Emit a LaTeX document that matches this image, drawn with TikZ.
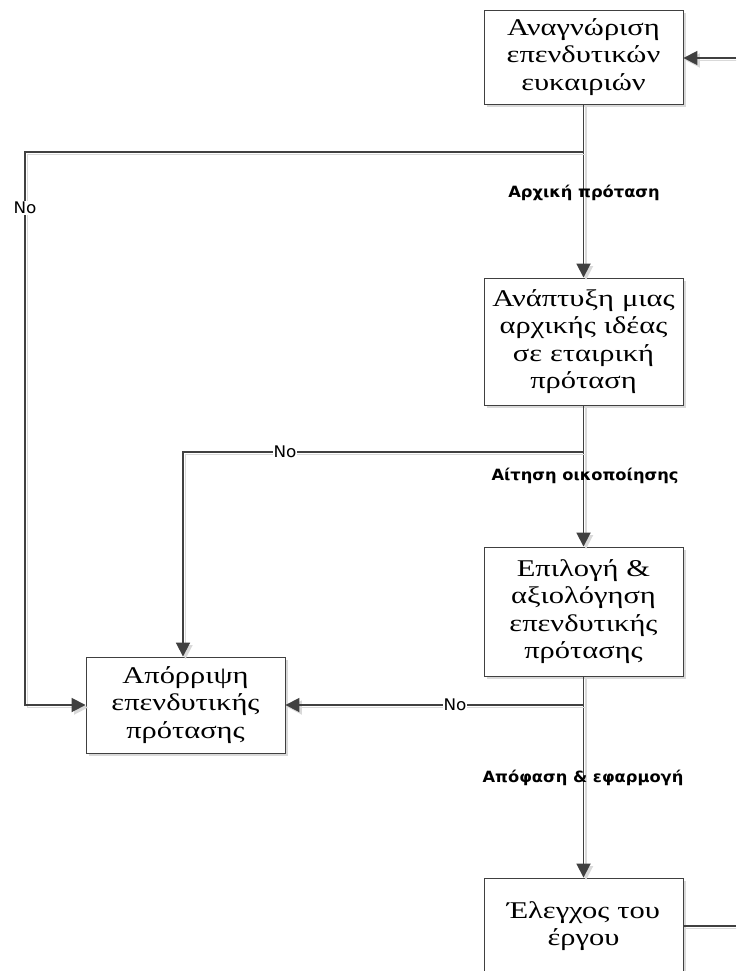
\documentclass[tikz,border=0pt]{standalone}
\usepackage{fontspec}
\setmainfont[FakeStretch=1.27]{Liberation Serif}
\newfontfamily\lblfont[FakeStretch=1.05]{DejaVu Sans}
\usetikzlibrary{arrows.meta}
\definecolor{linegray}{HTML}{404040}
\definecolor{shadowgray}{HTML}{D9D9D9}
\tikzset{
  box/.style={draw=linegray, line width=0.9pt, fill=white, minimum width=199pt, text width=196pt, align=center,
     font=\fontsize{24}{27.5}\selectfont, inner sep=0pt,
     preaction={fill=shadowgray, transform canvas={shift={(3pt,-3pt)}}}},
  conn/.style={draw=linegray, line width=1.8pt, -{Triangle[length=14pt,width=14pt]},
     preaction={draw=shadowgray, line width=1.8pt, transform canvas={shift={(2.5pt,-2.5pt)}}}},
  plain/.style={draw=linegray, line width=1.8pt,
     preaction={draw=shadowgray, line width=1.8pt, transform canvas={shift={(2.5pt,-2.5pt)}}}},
  flowlbl/.style={font=\lblfont\bfseries\fontsize{15.5}{18}\selectfont, inner sep=0pt},
  nolbl/.style={font=\lblfont\fontsize{16}{18}\selectfont, fill=white, inner sep=1pt}
}
\begin{document}
\begin{tikzpicture}[x=1pt,y=-1pt]
\useasboundingbox (0,0) rectangle (736,971);
\clip (0,0) rectangle (736,971);
\fill[white] (0,0) rectangle (736,971);
% boxes
\node[box, minimum height=94pt] (b1) at (583.5,57) {Αναγνώριση\\επενδυτικών\\ευκαιριών};
\node[box, minimum height=127pt] (b2) at (583.5,341.5) {Ανάπτυξη μιας\\αρχικής ιδέας\\σε εταιρική\\πρόταση};
\node[box, minimum height=129pt] (b3) at (583.5,611.5) {Επιλογή \&\\αξιολόγηση\\επενδυτικής\\πρότασης};
\node[box, minimum height=96pt] (rej) at (185.5,705) {Απόρριψη\\επενδυτικής\\πρότασης};
\node[box, minimum height=96pt] (b4) at (583.5,926) {Έλεγχος του\\έργου};
% coordinates
\coordinate (inR) at (736,58);
\coordinate (outR) at (736,926);
\coordinate (j1) at (b1.south |- 0,152);
\coordinate (c1) at (25,152);
\coordinate (c2) at (25,705);
\coordinate (j2) at (b2.south |- 0,452);
\coordinate (c3) at (183,452);
\coordinate (j3) at (b3.south |- 0,705);
% connectors
\draw[conn] (inR) -- (b1.east |- inR);
\draw[conn] (b1.south) -- (b2.north);
\draw[conn] (j1) -- (c1) -- (c2) -- (rej.west |- c2);
\draw[conn] (b2.south) -- (b3.north);
\draw[conn] (j2) -- (c3) -- (c3 |- rej.north);
\draw[conn] (b3.south) -- (b4.north);
\draw[conn] (j3) -- (rej.east |- j3);
\draw[plain] (b4.east) -- (outR);
% labels
\node[flowlbl] (l1) at (584,193) {Αρχική πρόταση};
\node[flowlbl] (l2) at (585,476) {Αίτηση οικοποίησης};
\node[flowlbl] (l3) at (583,778) {Απόφαση \& εφαρμογή};
\node[nolbl] (n1) at (25,208) {No};
\node[nolbl] (n2) at (285,452) {No};
\node[nolbl] (n3) at (455,705) {No};
\end{tikzpicture}
\end{document}
